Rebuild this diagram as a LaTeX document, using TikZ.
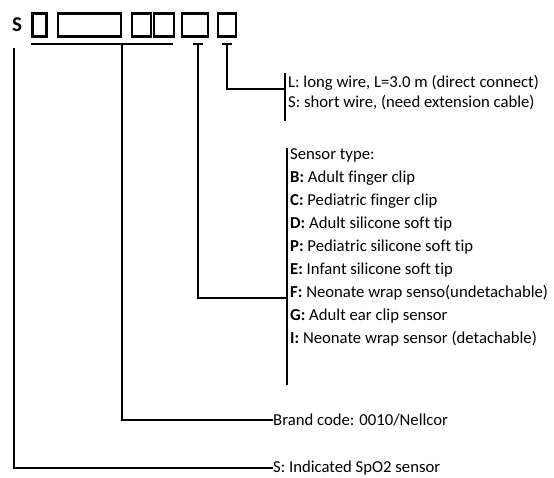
\documentclass[tikz,border=0pt]{standalone}
\usepackage{fontspec}
\setmainfont{Carlito}[Ligatures=NoCommon]
\begin{document}
\begin{tikzpicture}[x=1pt,y=-1pt,
  cbox/.style={draw, line width=2.3pt, minimum height=23pt, inner sep=0pt},
  lab/.style={anchor=west, inner sep=0pt, font=\fontsize{16.7}{19}\selectfont},
  thinline/.style={line width=1.3pt},
  thickline/.style={line width=2pt}]
\useasboundingbox (0,0) rectangle (554,477);
% code letter and boxes
\node[inner sep=0pt, font=\fontsize{21}{24}\bfseries\selectfont] (s) at (17,25) {S};
\node[cbox, minimum width=14pt] (b1) at (39.5,25) {};
\node[cbox, minimum width=63pt] (b2) at (89.5,25) {};
\node[cbox, minimum width=19pt] (b3) at (141.5,25) {};
\node[cbox, minimum width=20pt] (b4) at (164,25) {};
\node[cbox, minimum width=26pt] (b5) at (195,25) {};
\node[cbox, minimum width=18pt] (b6) at (227,25) {};
% labels
\node[lab] (tl) at (288,83) {L: long wire, L=3.0 m (direct connect)};
\node[lab] (ts) at (288,103) {S: short wire, (need extension cable)};
\node[lab] (tt) at (290,155) {Sensor type:};
\node[lab] (tB) at (290,178) {\textbf{B:} Adult finger clip};
\node[lab] (tC) at (290,201) {\textbf{C:} Pediatric finger clip};
\node[lab] (tD) at (290,224) {\textbf{D:} Adult silicone soft tip};
\node[lab] (tP) at (290,247) {\textbf{P:} Pediatric silicone soft tip};
\node[lab] (tE) at (290,270) {\textbf{E:} Infant silicone soft tip};
\node[lab] (tF) at (290,293) {\textbf{F:} Neonate wrap senso(undetachable)};
\node[lab] (tG) at (290,316) {\textbf{G:} Adult ear clip sensor};
\node[lab] (tI) at (290,339) {\textbf{I:} Neonate wrap sensor (detachable)};
\node[lab] (tbr) at (273,420) {Brand code: 0010/Nellcor};
\node[lab] (tsi) at (273,468) {S: Indicated SpO2 sensor};
% brackets beside the text groups
\coordinate (lsT) at (285,73);
\coordinate (lsB) at (285,121);
\coordinate (stT) at (287,148);
\coordinate (stB) at (287,385);
\draw[thinline] (lsT) -- (lsB);
\draw[thickline] (stT) -- (stB);
% underline of the brand code boxes
\coordinate (uL) at (31,44);
\coordinate (uR) at (173,44);
\draw[line width=2.6pt] (uL) -- (uR);
% ticks
\coordinate (t5L) at (193,44);
\coordinate (t5R) at (203,44);
\coordinate (t6L) at (222,44);
\coordinate (t6R) at (232,44);
\draw[thinline] (t5L) -- (t5R);
\draw[thinline] (t6L) -- (t6R);
% connectors
\draw[thinline] (227,44) |- (lsT |- 0,89);
\draw[thickline] (198,44) |- (stT |- 0,298);
\draw[line width=2.2pt] (122,44) |- (tbr.west);
\draw[thickline] (14,48) |- (tsi.west);
\end{tikzpicture}
\end{document}
